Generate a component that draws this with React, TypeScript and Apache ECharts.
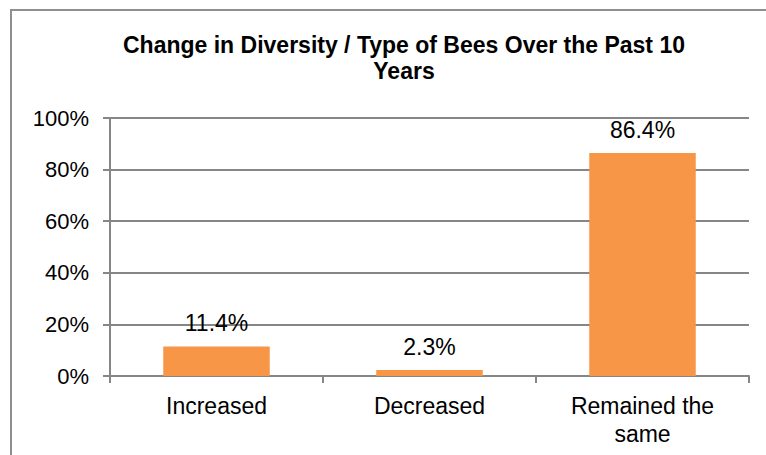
import React, { useEffect, useRef } from "react";
import * as echarts from "echarts";

const categories = ["Increased", "Decreased", "Remained the\nsame"];
const values = [11.4, 2.3, 86.4];
const titleText = "Change in Diversity / Type of Bees Over the Past 10\nYears";

export default function App() {
  const ref = useRef<HTMLDivElement>(null);
  useEffect(() => {
    if (!ref.current) return;
    const chart = echarts.init(ref.current, null, { renderer: "svg" });
    const font = "'Liberation Sans', Arial, sans-serif";
    chart.setOption({
      animation: false,
      backgroundColor: "#ffffff",
      grid: { left: 110, right: 17, top: 118, bottom: 79, containLabel: false },
      graphic: [
        {
          type: "rect",
          shape: { x: 11, y: 10, width: 800, height: 500 },
          style: { fill: "none", stroke: "#8f8f8f", lineWidth: 2 },
          silent: true,
        },
        {
          type: "text",
          x: 404,
          y: 32,
          style: {
            text: titleText,
            font: `bold 23px ${font}`,
            fill: "#000000",
            align: "center",
            verticalAlign: "top",
            lineHeight: 26,
          },
        },
      ],
      xAxis: {
        type: "category",
        data: categories,
        axisLine: { show: true, lineStyle: { color: "#868686", width: 2 } },
        axisTick: { show: true, length: 7, lineStyle: { color: "#868686", width: 2 } },
        axisLabel: {
          color: "#000000",
          fontFamily: font,
          fontSize: 23,
          lineHeight: 28,
          margin: 16,
        },
      },
      yAxis: {
        type: "value",
        min: 0,
        max: 100,
        interval: 20,
        axisLine: { show: true, lineStyle: { color: "#868686", width: 2 } },
        axisTick: { show: true, length: 7, lineStyle: { color: "#868686", width: 2 } },
        splitLine: { show: true, lineStyle: { color: "#868686", width: 2 } },
        axisLabel: {
          color: "#000000",
          fontFamily: font,
          fontSize: 22,
          margin: 21,
          formatter: (v: number) => `${v}%`,
        },
      },
      series: [
        {
          type: "bar",
          data: values,
          barWidth: "50%",
          itemStyle: { color: "#F79646" },
          label: {
            show: true,
            position: "top",
            distance: 12,
            color: "#000000",
            fontFamily: font,
            fontSize: 23,
            formatter: (p: any) => `${p.value.toFixed(1)}%`,
          },
        },
      ],
    });
    return () => chart.dispose();
  }, []);
  return (
    <div
      ref={ref}
      style={{ position: "absolute", left: 0, top: 0, width: 766, height: 455 }}
    />
  );
}
